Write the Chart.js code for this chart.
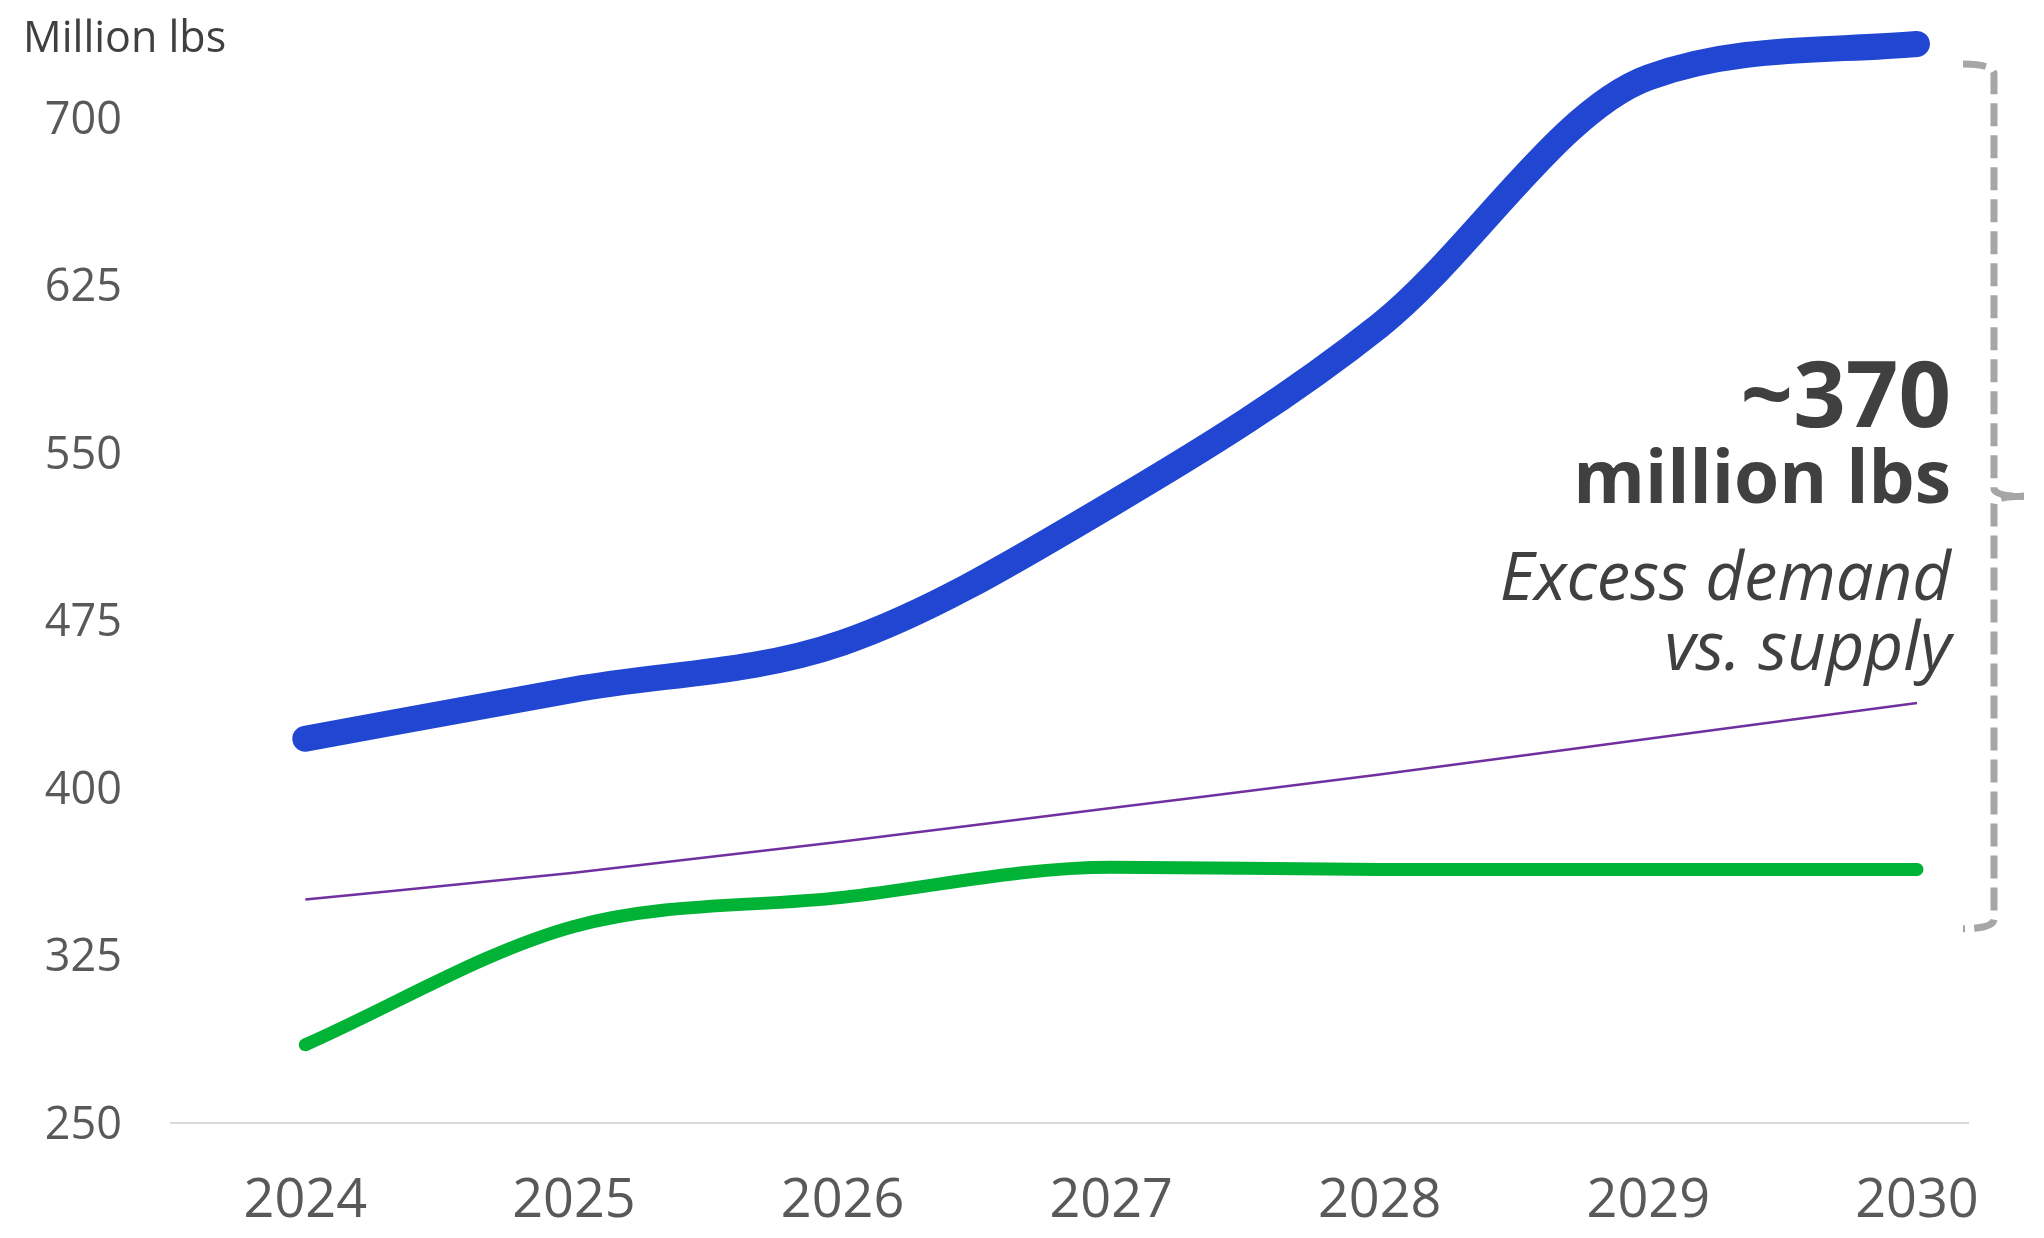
<!DOCTYPE html>
<html>
<head>
<meta charset="utf-8">
<script src="https://cdn.jsdelivr.net/npm/chart.js@4.4.1/dist/chart.umd.min.js"></script>
<style>
  html, body { margin: 0; padding: 0; background: #fff; }
  #wrap { width: 2044px; height: 1238px; position: relative; }
</style>
</head>
<body>
<div id="wrap"><canvas id="chart"></canvas></div>
<script>
const YEARS = [2024, 2025, 2026, 2027, 2028, 2029, 2030];
const DEMAND = [422, 444, 465, 527, 607, 718, 733];
const TREND = [350, 362, 376, 391, 406, 422, 438];
const SUPPLY = [285, 338, 351, 364.5, 363.5, 363.5, 363.5];
const Y_TICKS = [250, 325, 400, 475, 550, 625, 700];

const UNIT_LABEL = "Million lbs";
const GAP_TEXT = ["~370", "million lbs", "Excess demand", "vs. supply"];
const BRACKET_TOP = 724;
const BRACKET_BOTTOM = 337;

const FONT = "'Open Sans', 'Noto Sans', sans-serif";

var toPoints = function (values) {
    return YEARS.map(function (y, i) { return { x: y, y: values[i] }; });
};

var noPad = function (s) {
    s.paddingTop = 0;
    s.paddingBottom = 0;
    s.paddingLeft = 0;
    s.paddingRight = 0;
};

// labels and the dashed brace on the right
const extras = {
    id: "extras",
    afterDraw: function (chart) {
        const ctx = chart.ctx;
        const ys = chart.scales.y;
        const area = chart.chartArea;
        ctx.save();

        ctx.fillStyle = "#404040";
        ctx.textAlign = "left";
        ctx.textBaseline = "alphabetic";
        ctx.font = "43px " + FONT;
        ctx.fillText(UNIT_LABEL, 23, 52);

        ctx.textAlign = "right";
        const tx = 1951;
        ctx.font = "bold 92px " + FONT;
        ctx.fillText(GAP_TEXT[0], tx, 427);
        ctx.font = "bold 73px " + FONT;
        ctx.fillText(GAP_TEXT[1], tx, 503);
        ctx.font = "italic 67px " + FONT;
        ctx.fillText(GAP_TEXT[2], tx, 600);
        ctx.fillText(GAP_TEXT[3], tx, 670);

        const x = area.right + 26;
        const yTop = ys.getPixelForValue(BRACKET_TOP);
        const yBot = ys.getPixelForValue(BRACKET_BOTTOM);
        const yMid = (yTop + yBot) / 2;
        ctx.strokeStyle = "#a6a6a6";
        ctx.lineWidth = 7;
        ctx.setLineDash([23, 9]);
        ctx.beginPath();
        ctx.moveTo(x - 31, yTop);
        ctx.quadraticCurveTo(x, yTop, x, yTop + 10);
        ctx.lineTo(x, yMid - 8);
        ctx.quadraticCurveTo(x, yMid, x + 30, yMid);
        ctx.stroke();
        ctx.beginPath();
        ctx.moveTo(x + 30, yMid);
        ctx.quadraticCurveTo(x, yMid, x, yMid + 8);
        ctx.lineTo(x, yBot - 10);
        ctx.quadraticCurveTo(x, yBot, x - 31, yBot);
        ctx.stroke();
        ctx.restore();
    }
};

new Chart(document.getElementById("chart"), {
    type: "line",
    data: {
        datasets: [
            {
                label: "Demand",
                data: toPoints(DEMAND),
                borderColor: "#2147d2",
                borderWidth: 26,
                borderCapStyle: "round",
                borderJoinStyle: "round",
                pointRadius: 0,
                cubicInterpolationMode: "monotone",
            },
            {
                label: "Trend",
                data: toPoints(TREND),
                borderColor: "#7030a0",
                borderWidth: 2.5,
                pointRadius: 0,
                cubicInterpolationMode: "monotone",
            },
            {
                label: "Supply",
                data: toPoints(SUPPLY),
                borderColor: "#00b336",
                borderWidth: 13,
                borderCapStyle: "round",
                borderJoinStyle: "round",
                pointRadius: 0,
                cubicInterpolationMode: "monotone",
            },
        ],
    },
    options: {
        responsive: true,
        maintainAspectRatio: false,
        animation: false,
        layout: { padding: { left: 0, right: 76, top: 6, bottom: 0 } },
        plugins: {
            legend: { display: false },
            tooltip: { enabled: false },
        },
        scales: {
            x: {
                type: "linear",
                min: 2023.5,
                max: 2030.19,
                grid: { display: false, drawTicks: false },
                border: { display: true, color: "#d9d9d9", width: 2 },
                afterBuildTicks: function (s) { s.ticks = YEARS.map(function (v) { return { value: v }; }); },
                afterFit: function (s) { s.height = 115; noPad(s); },
                ticks: {
                    padding: 46,
                    color: "#595959",
                    font: { family: FONT, size: 54 },
                    callback: function (v) { return String(v); },
                },
            },
            y: {
                min: 250,
                max: 750,
                grid: { display: false, drawTicks: false },
                border: { display: false },
                afterBuildTicks: function (s) { s.ticks = Y_TICKS.map(function (v) { return { value: v }; }); },
                afterFit: function (s) { s.width = 171; noPad(s); },
                ticks: {
                    padding: 49,
                    labelOffset: 3,
                    color: "#595959",
                    font: { family: FONT, size: 45 },
                    callback: function (v) { return String(v); },
                },
            },
        },
    },
    plugins: [extras],
});
</script>
</body>
</html>
